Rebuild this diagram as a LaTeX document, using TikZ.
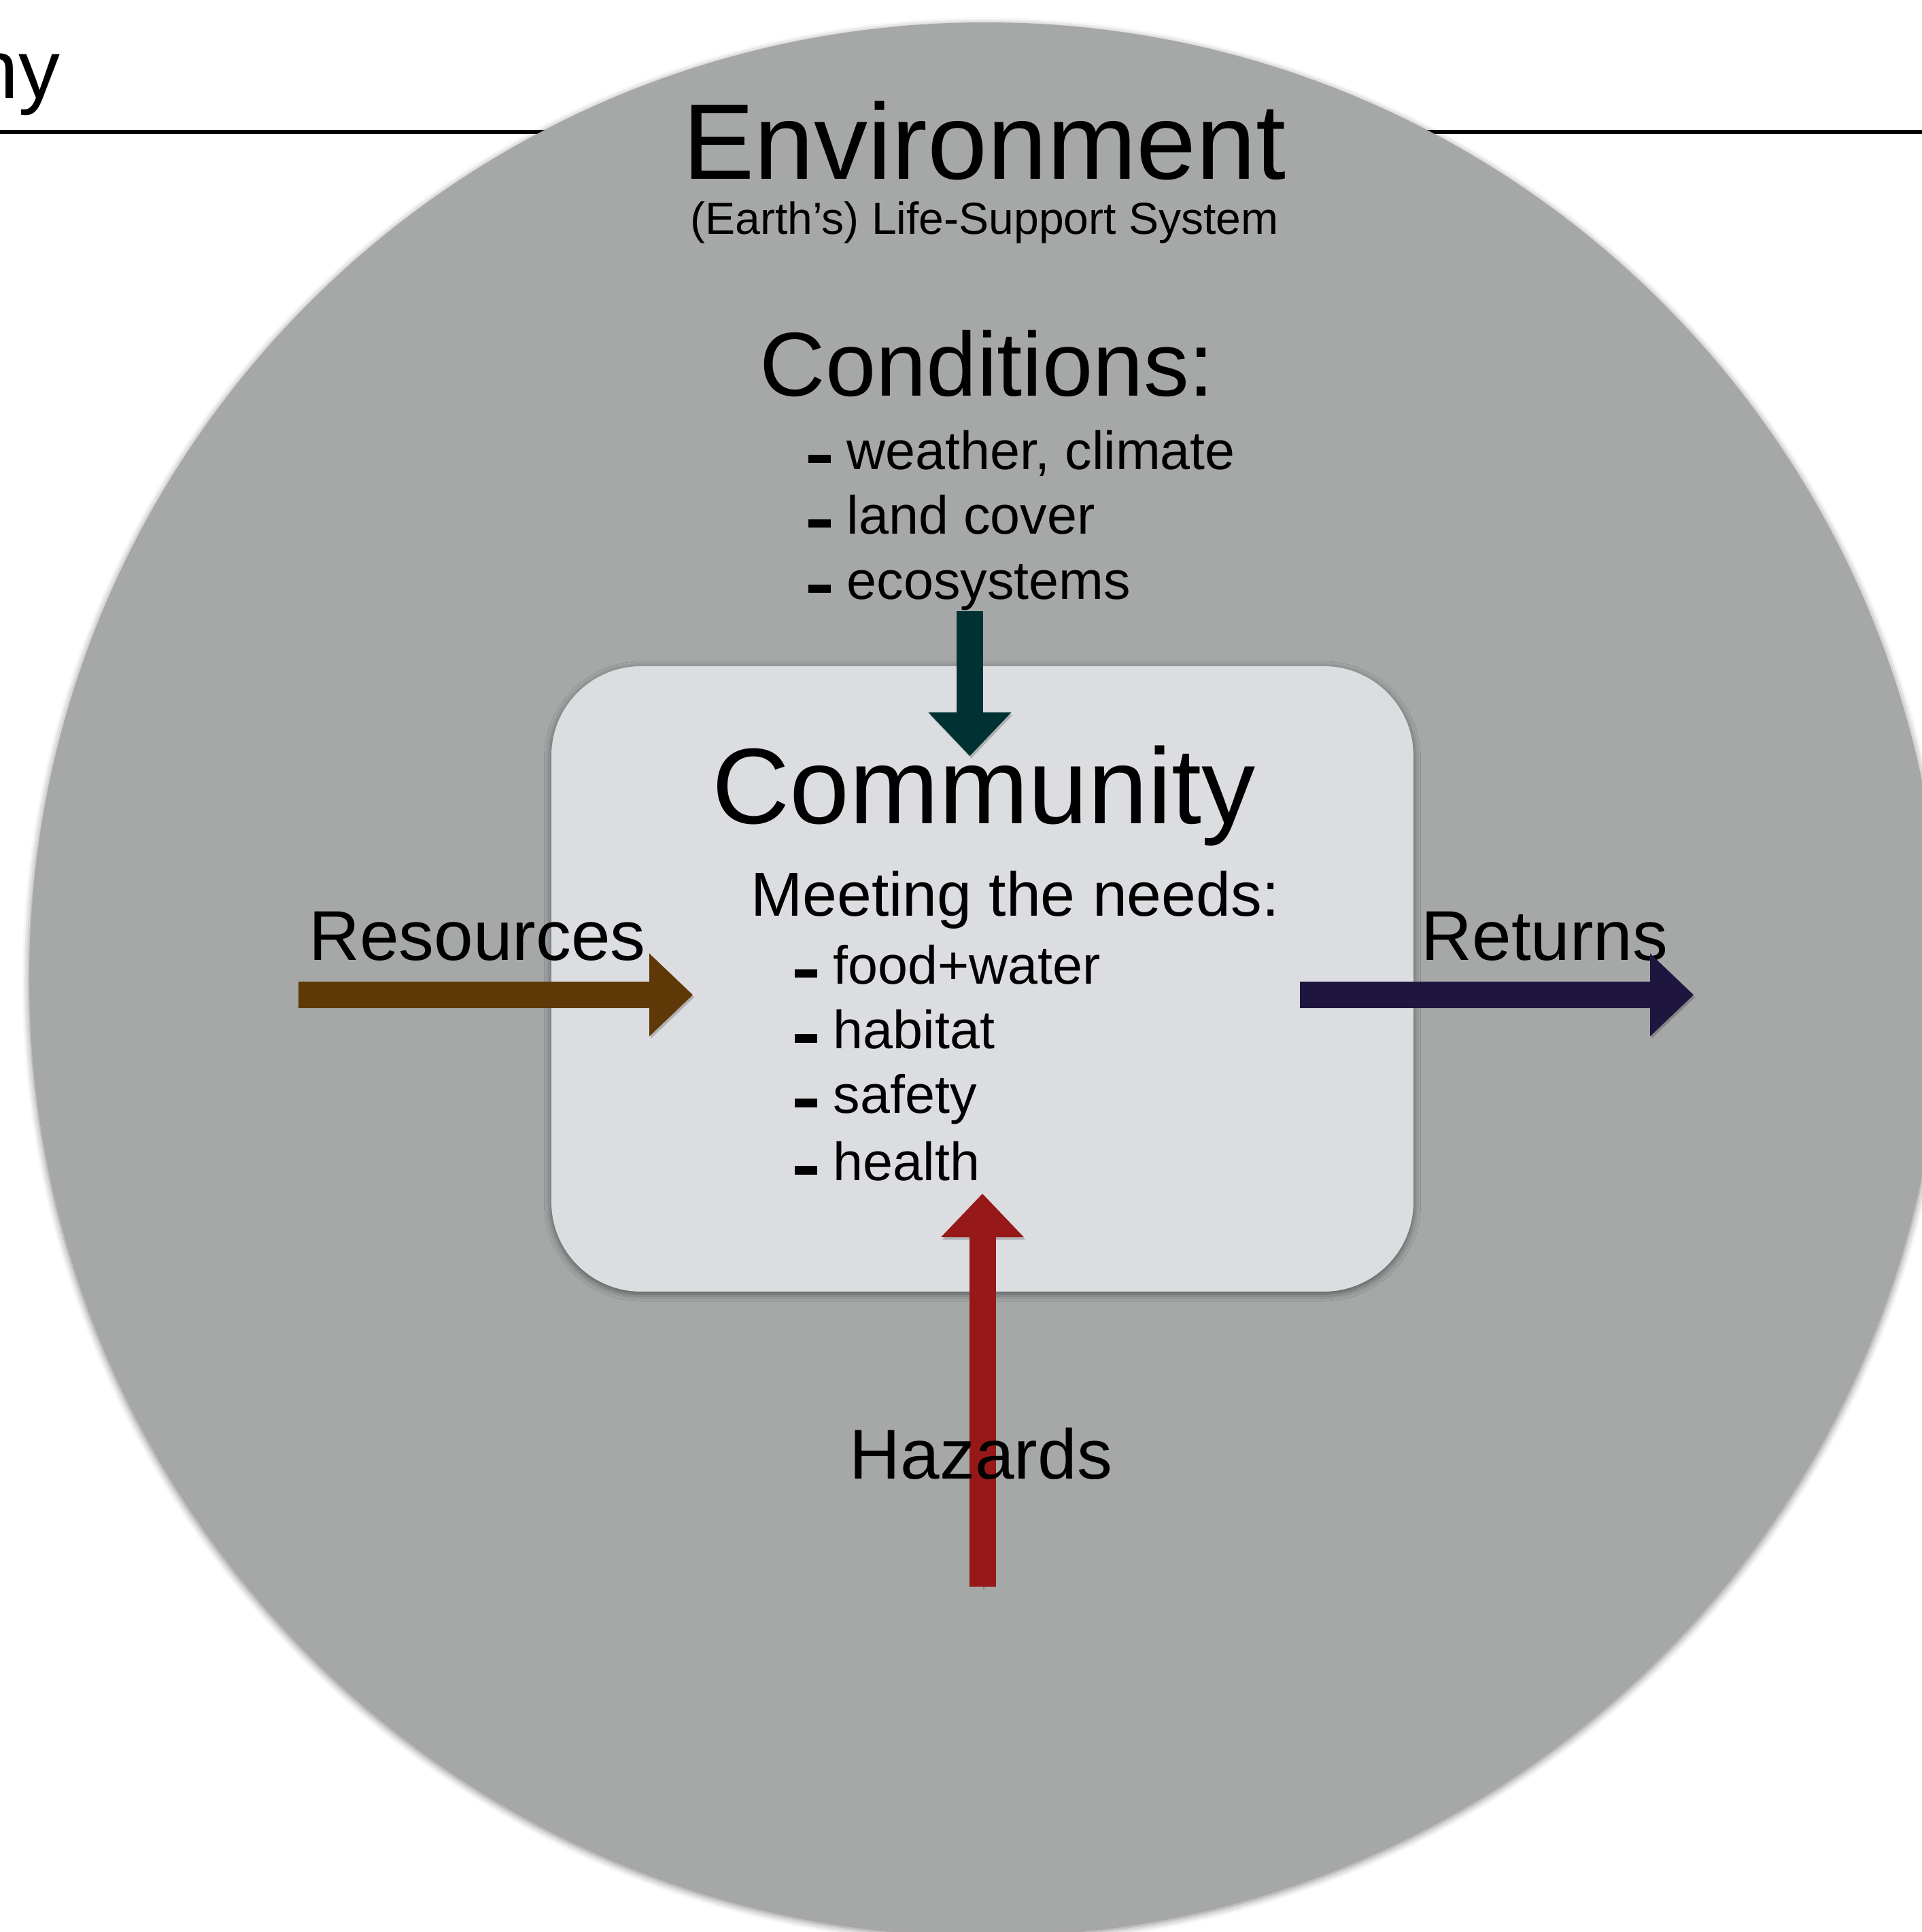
\documentclass[tikz,border=0pt]{standalone}
\usepackage{fontspec}
\setmainfont{Liberation Sans}
\usetikzlibrary{arrows.meta,shadows.blur}

\definecolor{envgray}{RGB}{165,168,167}
\definecolor{commgray}{RGB}{220,221,224}
\definecolor{resbrown}{RGB}{94,56,6}
\definecolor{retnavy}{RGB}{30,22,62}
\definecolor{condteal}{RGB}{0,50,52}
\definecolor{hazred}{RGB}{150,24,24}

\newcommand{\listdash}{\rule[0.12em]{0.42em}{0.16em}\hspace{0.3em}}

\begin{document}
\begin{tikzpicture}[
    txt/.style={anchor=base, inner sep=0pt},
    hugetxt/.style={txt, font=\fontsize{45}{54}\selectfont},
    arrowtxt/.style={txt, font=\fontsize{29.5}{35}\selectfont},
    listtxt/.style={anchor=base west, inner sep=0pt, font=\fontsize{22.5}{27}\selectfont},
    softshadow/.style={blur shadow={shadow xshift=0pt, shadow yshift=-1pt, shadow blur radius=3pt, shadow opacity=50}},
    flow/.style={line width=0.39cm, -{Triangle[width=1.22cm,length=0.64cm,line width=0pt]},
        preaction={draw=black, opacity=0.2, transform canvas={xshift=0.6pt, yshift=-1pt}}}
  ]
    \useasboundingbox (0,0) rectangle (28.27,28.42);
    % header rule
    \coordinate (ruleL) at (0,26.48);
    \coordinate (ruleR) at (28.27,26.48);
    \path[draw, line width=0.06cm] (ruleL) -- (ruleR);
    \node[anchor=base east, inner sep=0pt, font=\fontsize{34.7}{40}\selectfont] (ny) at (0.89,26.97) {ny};
    % environment
    \node[circle, fill=envgray, minimum size=28.14cm, inner sep=0pt, softshadow] (env) at (14.50,14.02) {};
    \node[hugetxt] (envtitle) at (14.48,25.78) {Environment};
    \node[txt, font=\fontsize{18.8}{22}\selectfont] (envsub) at (14.48,24.97) {(Earth’s) Life-Support System};
    % conditions
    \node[txt, font=\fontsize{38}{45}\selectfont] (cond) at (14.52,22.59) {Conditions:};
    \node[listtxt] (weather) at (11.88,21.51) {\listdash weather, climate};
    \node[listtxt] (land) at (11.88,20.56) {\listdash land cover};
    \node[listtxt] (eco) at (11.88,19.60) {\listdash ecosystems};
    % community
    \node[rectangle, rounded corners=1.32cm, fill=commgray, minimum width=12.68cm, minimum height=9.20cm,
        softshadow] (comm) at (14.45,14.02) {};
    \node[hugetxt] (commtitle) at (14.47,16.30) {Community};
    \node[txt, font=\fontsize{26}{31}\selectfont] (meeting) at (14.93,14.94) {Meeting the needs:};
    \node[listtxt] (food) at (11.68,13.94) {\listdash food+water};
    \node[listtxt] (habitat) at (11.68,12.99) {\listdash habitat};
    \node[listtxt] (safety) at (11.68,12.04) {\listdash safety};
    \node[listtxt] (health) at (11.68,11.05) {\listdash health};
    % flows
    \node[arrowtxt] (res) at (7.02,14.29) {Resources};
    \node[arrowtxt] (ret) at (22.72,14.29) {Returns};
    \coordinate (resA) at (4.39,13.785);
    \coordinate (resB) at (10.19,13.785);
    \coordinate (retA) at (19.12,13.785);
    \coordinate (retB) at (24.91,13.785);
    \coordinate (condA) at (14.265,19.43);
    \coordinate (condB) at (14.265,17.30);
    \coordinate (hazA) at (14.45,5.08);
    \coordinate (hazB) at (14.45,10.86);
    \path[draw=resbrown, flow] (resA) -- (resB);
    \path[draw=retnavy, flow] (retA) -- (retB);
    \path[draw=condteal, flow] (condA) -- (condB);
    \path[draw=hazred, flow] (hazA) -- (hazB);
    \node[arrowtxt] (haz) at (14.43,6.66) {Hazards};
\end{tikzpicture}
\end{document}
